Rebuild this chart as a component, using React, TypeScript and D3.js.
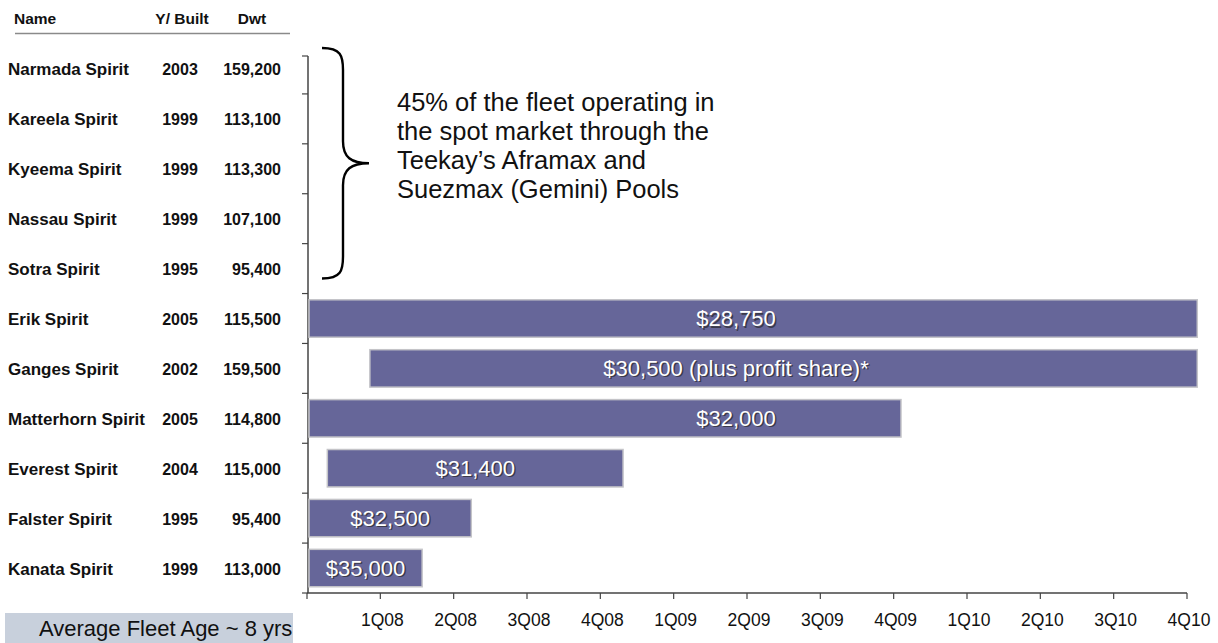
import React from "react";
import * as d3 from "d3";

const shipNames = [
  "Narmada Spirit", "Kareela Spirit", "Kyeema Spirit", "Nassau Spirit", "Sotra Spirit",
  "Erik Spirit", "Ganges Spirit", "Matterhorn Spirit", "Everest Spirit", "Falster Spirit", "Kanata Spirit",
];
const yearBuilt = ["2003", "1999", "1999", "1999", "1995", "2005", "2002", "2005", "2004", "1995", "1999"];
const dwt = ["159,200", "113,100", "113,300", "107,100", "95,400", "115,500", "159,500", "114,800", "115,000", "95,400", "113,000"];

const barShips = ["Erik Spirit", "Ganges Spirit", "Matterhorn Spirit", "Everest Spirit", "Falster Spirit", "Kanata Spirit"];
const barStart = [0, 0.83, 0, 0.25, 0, 0];
const barEnd = [12.14, 12.14, 8.1, 4.31, 2.24, 1.57];
const barRates = ["$28,750", "$30,500 (plus profit share)*", "$32,000", "$31,400", "$32,500", "$35,000"];

const quarters = ["1Q08", "2Q08", "3Q08", "4Q08", "1Q09", "2Q09", "3Q09", "4Q09", "1Q10", "2Q10", "3Q10", "4Q10"];

const noteLines = [
  "45% of the fleet operating in",
  "the spot market through the",
  "Teekay\u2019s Aframax and",
  "Suezmax (Gemini) Pools",
];

const FONT = "'Liberation Sans', Arial, Helvetica, sans-serif";

export default function App() {
  const W = 1218, H = 643;
  const x = d3.scaleLinear().domain([0, quarters.length]).range([307, 1187]);
  const y = d3.scaleBand<string>().domain(shipNames).range([44, 593]).paddingInner(0.25).paddingOuter(0.125);
  const step = y.step();
  const y0 = y.range()[0];
  const yTicks = d3.range(shipNames.length + 1).map((i) => y0 + i * step);
  const axisY = y.range()[1];

  // brace geometry
  const bTop = y0 + 4;
  const bBot = y0 + 5 * step - 15;
  const bMid = (bTop + bBot) / 2;
  const bx0 = 322, bx1 = 343, bTip = 369;
  const bracePath = [
    `M${bx0},${bTop}`,
    `C${bx1 - 2},${bTop} ${bx1},${bTop + 8} ${bx1},${bTop + 22}`,
    `L${bx1},${bMid - 22}`,
    `C${bx1},${bMid - 6} ${bx1 + 8},${bMid} ${bTip},${bMid}`,
    `C${bx1 + 8},${bMid} ${bx1},${bMid + 6} ${bx1},${bMid + 22}`,
    `L${bx1},${bBot - 22}`,
    `C${bx1},${bBot - 8} ${bx1 - 2},${bBot} ${bx0},${bBot}`,
  ].join(" ");

  return (
    <svg width={W} height={H} style={{ position: "absolute", left: 0, top: 0, background: "#fff" }} fontFamily={FONT}>
      {/* header */}
      <text x={14} y={24} fontSize={15.5} fontWeight="bold" fill="#111">Name</text>
      <text x={182} y={24} fontSize={15.5} fontWeight="bold" fill="#111" textAnchor="middle">Y/ Built</text>
      <text x={252} y={24} fontSize={15.5} fontWeight="bold" fill="#111" textAnchor="middle">Dwt</text>
      <line x1={15} x2={290} y1={33.5} y2={33.5} stroke="#8a8a8a" strokeWidth={1.5} />

      {/* rows */}
      {shipNames.map((n, i) => {
        const cy = (y(n) as number) + y.bandwidth() / 2 + 1;
        return (
          <g key={n} fontWeight="bold" fill="#111">
            <text x={8} y={cy} fontSize={17} dominantBaseline="central">{n}</text>
            <text x={180} y={cy} fontSize={16} dominantBaseline="central" textAnchor="middle">{yearBuilt[i]}</text>
            <text x={281} y={cy} fontSize={16} dominantBaseline="central" textAnchor="end">{dwt[i]}</text>
          </g>
        );
      })}

      {/* y axis */}
      <line x1={308} x2={308} y1={yTicks[0] + 12} y2={axisY} stroke="#444" strokeWidth={1.5} />
      {yTicks.map((t, i) => (
        <line key={i} x1={302} x2={308} y1={i === 0 ? t + 12 : t} y2={i === 0 ? t + 12 : t} stroke="#444" strokeWidth={1.2} />
      ))}

      {/* bars */}
      {barShips.map((s, i) => {
        const by = y(s) as number;
        const bx = x(barStart[i]) + 2;
        const bw = x(barEnd[i]) - bx;
        const lx = barEnd[i] > 6 ? x(5.85) : (bx + x(barEnd[i])) / 2;
        const ly = by + y.bandwidth() / 2;
        return (
          <g key={s}>
            <rect x={bx} y={by} width={bw} height={y.bandwidth()} fill="#666699" stroke="#c4c4c8" strokeWidth={1.5} />
            <text x={lx + 1.5} y={ly + 1.5} fontSize={22} fill="#3a3a4a" textAnchor="middle" dominantBaseline="central">{barRates[i]}</text>
            <text x={lx} y={ly} fontSize={22} fill="#fff" textAnchor="middle" dominantBaseline="central">{barRates[i]}</text>
          </g>
        );
      })}

      {/* x axis */}
      <line x1={x(0)} x2={x(quarters.length)} y1={axisY} y2={axisY} stroke="#444" strokeWidth={1.5} />
      {d3.range(quarters.length + 1).map((k) => (
        <line key={k} x1={x(k)} x2={x(k)} y1={axisY} y2={axisY + 6} stroke="#444" strokeWidth={1.2} />
      ))}
      {quarters.map((q, k) => (
        <text key={q} x={x(k + 1) + 2} y={620} fontSize={17.5} fill="#111" textAnchor="middle" dominantBaseline="central">{q}</text>
      ))}

      {/* brace and note */}
      <path d={bracePath} fill="none" stroke="#000" strokeWidth={2.4} />
      {noteLines.map((l, i) => (
        <text key={i} x={397} y={111 + i * 29} fontSize={25.5} fill="#111">{l}</text>
      ))}

      {/* average fleet age box */}
      <rect x={5} y={613} width={288} height={30} fill="#c8d0dc" />
      <text x={39} y={628} fontSize={22} fill="#111" dominantBaseline="central">Average Fleet Age ~ 8 yrs</text>
    </svg>
  );
}
